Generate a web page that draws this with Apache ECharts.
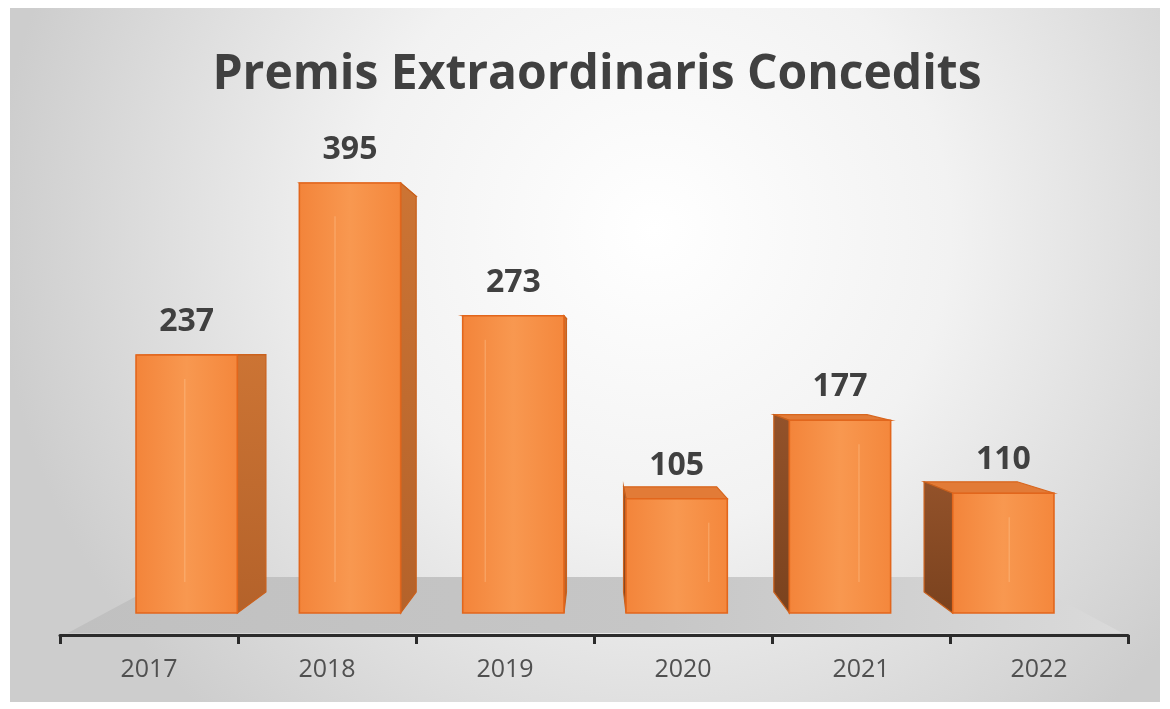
<!DOCTYPE html>
<html>
<head>
<meta charset="utf-8">
<script src="https://cdn.jsdelivr.net/npm/echarts@6/dist/echarts.min.js"></script>
<style>
html,body{margin:0;padding:0;background:#ffffff;}
#chart{width:1170px;height:709px;}
</style>
</head>
<body>
<div id="chart"></div>
<script>
const titleText = 'Premis Extraordinaris Concedits';
const years = ['2017', '2018', '2019', '2020', '2021', '2022'];
const awards = [237, 395, 273, 105, 177, 110];
const valueMax = 500;

const chart = echarts.init(document.getElementById('chart'));

// perspective look: eye level above the base line and depth scale of the back faces
const EYE_ABOVE_BASE = 263;
const BACK_SCALE = 0.92;
const FLOOR_FRONT = 1.076;
const FLOOR_BACK = 0.863;

function persp(vx, vy, s) {
  return function (x, y) { return [vx + s * (x - vx), vy + s * (y - vy)]; };
}

function renderFloor(params, api) {
  const cs = params.coordSys;
  const base = api.coord([0, 0])[1];
  const vx = cs.x + cs.width / 2;
  const vy = base - EYE_ABOVE_BASE;
  const f = persp(vx, vy, FLOOR_FRONT);
  const b = persp(vx, vy, FLOOR_BACK);
  const L = cs.x, R = cs.x + cs.width;
  return {
    type: 'polygon',
    shape: { points: [f(L, base), b(L, base), b(R, base), f(R, base)] },
    style: {
      fill: new echarts.graphic.LinearGradient(0, 0, 1, 0, [
        { offset: 0, color: '#C0C0C0' },
        { offset: 0.55, color: '#C6C6C6' },
        { offset: 1, color: '#DADADA' }
      ])
    },
    silent: true
  };
}

function renderBox(params, api) {
  const i = api.value(0), v = api.value(1);
  const cs = params.coordSys;
  const p0 = api.coord([i, 0]);
  const p1 = api.coord([i, v]);
  const bw = api.size([1, 0])[0] * 0.62;
  const L = p0[0] - bw / 2, R = p0[0] + bw / 2, T = p1[1], B = p0[1];
  const vx = cs.x + cs.width / 2;
  const vy = B - EYE_ABOVE_BASE;
  const bk = persp(vx, vy, BACK_SCALE);
  const leftOfEye = p0[0] < vx;
  const children = [];
  // top face
  children.push({
    type: 'polygon',
    shape: { points: [[L, T], [R, T], bk(R, T), bk(L, T)] },
    style: { fill: '#E27B37', stroke: '#D8661E', lineWidth: 1.2 }
  });
  // side face
  const sx = leftOfEye ? R : L;
  children.push({
    type: 'polygon',
    shape: { points: [[sx, T], bk(sx, T), bk(sx, B), [sx, B]] },
    style: {
      fill: leftOfEye
        ? new echarts.graphic.LinearGradient(0, 0, 0, 1, [
            { offset: 0, color: '#CC7434' }, { offset: 1, color: '#B4622A' }])
        : new echarts.graphic.LinearGradient(0, 0, 0, 1, [
            { offset: 0, color: '#93522A' }, { offset: 1, color: '#7A421E' }]),
      stroke: '#C9601C', lineWidth: 1.2
    }
  });
  // front face
  children.push({
    type: 'rect',
    shape: { x: L, y: T, width: R - L, height: B - T },
    style: {
      fill: new echarts.graphic.LinearGradient(0, 0, 1, 0, [
        { offset: 0, color: '#F3843A' },
        { offset: 0.5, color: '#F89850' },
        { offset: 1, color: '#F4873C' }
      ]),
      stroke: '#E2661C', lineWidth: 1.6
    }
  });
  // faint back edges seen through the front
  const bl = bk(L, T), br = bk(R, T), bb = bk(L, B);
  const edgeX = leftOfEye ? bl[0] + 12 : br[0] - 8;
  children.push({
    type: 'line',
    shape: { x1: edgeX, y1: Math.max(bl[1], T + 4) + 20, x2: edgeX, y2: bb[1] - 10 },
    style: { stroke: 'rgba(255,200,150,0.35)', lineWidth: 1.5 }
  });
  // value label
  children.push({
    type: 'text',
    style: {
      text: String(v),
      x: (L + R) / 2,
      y: T - 33,
      textAlign: 'center',
      textVerticalAlign: 'middle',
      fontFamily: 'Open Sans',
      fontWeight: 'bold',
      fontSize: 32,
      fill: '#404040'
    }
  });
  return { type: 'group', children: children };
}

const option = {
  backgroundColor: '#ffffff',
  animation: false,
  graphic: [
    {
      type: 'rect', z: -10, silent: true,
      shape: { x: 10, y: 8, width: 1150, height: 694 },
      style: {
        fill: new echarts.graphic.RadialGradient(0.56, 0.32, 0.95, [
          { offset: 0, color: '#FFFFFF' },
          { offset: 0.45, color: '#F2F2F2' },
          { offset: 1, color: '#CDCDCD' }
        ])
      }
    },
    {
      type: 'text', z: 10,
      x: 597, y: 75,
      style: {
        text: titleText,
        textAlign: 'center',
        textVerticalAlign: 'middle',
        fontFamily: 'Open Sans',
        fontWeight: 'bold',
        fontSize: 48,
        fill: '#404040'
      }
    }
  ],
  grid: [
    { left: 60, width: 1068, top: 100, height: 535 },
    { left: 105, width: 980, top: 613 - valueMax * 1.0886, height: valueMax * 1.0886 }
  ],
  xAxis: [
    {
      gridIndex: 0, type: 'category', data: years,
      axisLine: { lineStyle: { color: '#2B2B2B', width: 3 } },
      axisTick: { show: true, length: 9, lineStyle: { color: '#2B2B2B', width: 3 } },
      axisLabel: { color: '#505050', fontSize: 25, fontFamily: 'Open Sans', margin: 22 }
    },
    { gridIndex: 1, type: 'category', data: years, show: false }
  ],
  yAxis: [
    { gridIndex: 0, type: 'value', show: false },
    { gridIndex: 1, type: 'value', min: 0, max: valueMax, show: false }
  ],
  series: [
    {
      type: 'custom', name: 'floor', xAxisIndex: 1, yAxisIndex: 1, z: 1,
      renderItem: renderFloor, data: [[0, 0]], silent: true
    },
    {
      type: 'custom', name: 'Premis', xAxisIndex: 1, yAxisIndex: 1, z: 2,
      renderItem: renderBox,
      encode: { x: 0, y: 1 },
      data: awards.map(function (v, i) { return [i, v]; })
    }
  ]
};
chart.setOption(option);
</script>
</body>
</html>
